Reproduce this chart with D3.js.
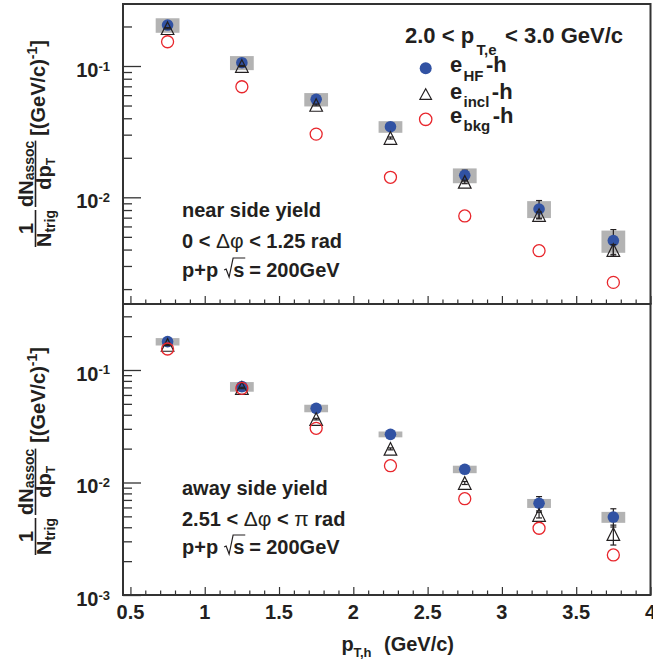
<!DOCTYPE html>
<html><head><meta charset="utf-8">
<script src="https://cdn.jsdelivr.net/npm/d3@7"></script>
<style>
body{margin:0;background:#fff}
text{font-family:"Liberation Sans",Arial,Helvetica,sans-serif;font-weight:bold;fill:#231f20}
</style>
</head><body>
<svg id="c" width="653" height="662"></svg>
<script>
// ---------- data ----------
const ptBins = [0.75, 1.25, 1.75, 2.25, 2.75, 3.25, 3.75];
// near side (0 < dphi < 1.25)
const nearHF     = [0.205, 0.106, 0.0557, 0.0345, 0.0147, 0.00815, 0.00468];
const nearHFStat = [0.003, 0.002, 0.0015, 0.0012, 0.0014, 0.0013, 0.0010];
const nearHFSys  = [0.026, 0.013, 0.0065, 0.0035, 0.0019, 0.0012, 0.0009];
const nearIncl   = [0.194, 0.100, 0.0505, 0.0283, 0.0131, 0.00733, 0.00397];
const nearInclStat = [0.002, 0.001, 0.0008, 0.0005, 0.0004, 0.0004, 0.0004];
const nearBkg    = [0.153, 0.0695, 0.0303, 0.0142, 0.00721, 0.00392, 0.00225];
// away side (2.51 < dphi < pi)
const awayHF     = [0.1786, 0.0711, 0.0456, 0.0268, 0.0131, 0.00654, 0.00493];
const awayHFStat = [0.003, 0.002, 0.0012, 0.0010, 0.0008, 0.00095, 0.00091];
const awayHFSys  = [0.0135, 0.007, 0.0035, 0.0016, 0.0010, 0.0006, 0.00055];
const awayIncl   = [0.167, 0.0692, 0.0366, 0.0199, 0.0099, 0.00514, 0.00348];
const awayInclStat = [0.002, 0.001, 0.0006, 0.0004, 0.0003, 0.0003, 0.0007];
const awayBkg    = [0.1537, 0.0687, 0.0303, 0.0141, 0.00718, 0.00392, 0.00227];

const xTickValues = [0.5, 1, 1.5, 2, 2.5, 3, 3.5, 4];
const xTickLabels = ["0.5", "1", "1.5", "2", "2.5", "3", "3.5", "4"];
const legendTitle = ["2.0 < p", "T,e", "< 3.0 GeV/c"];
const legendEntries = [
  {main: "e", sub: "HF", tail: "-h", marker: "hf"},
  {main: "e", sub: "incl", tail: "-h", marker: "incl"},
  {main: "e", sub: "bkg", tail: "-h", marker: "bkg"}
];
const nearText = ["near side yield", "0 < ", "Δφ", " < 1.25 rad"];
const awayText = ["away side yield", "2.51 < ", "Δφ", " < ", "π", " rad"];

// ---------- style ----------
const BLUE = "#3152a3", RED = "#e8262c", GRAY = "#b3b3b3", INK = "#231f20", FRAME = "#333";
const svg = d3.select("#c");

const x = d3.scaleLinear().domain([0.45, 4.0]).range([123, 650.5]);
const xMinor = d3.range(5, 41).map(d => d / 10);

const panels = [
  {name: "near", top: 4, bottom: 304, dom: [0.00154, 0.2966],
   hf: nearHF, hfStat: nearHFStat, hfSys: nearHFSys, incl: nearIncl, inclStat: nearInclStat, bkg: nearBkg},
  {name: "away", top: 304, bottom: 595, dom: [0.001, 0.386],
   hf: awayHF, hfStat: awayHFStat, hfSys: awayHFSys, incl: awayIncl, inclStat: awayInclStat, bkg: awayBkg}
];

function triPath(cx, cy, s) {
  return `M${cx},${cy - s}L${cx + s},${cy + s}L${cx - s},${cy + s}Z`;
}

panels.forEach((p, pi) => {
  const y = d3.scaleLog().domain(p.dom).range([p.bottom, p.top]);
  p.y = y;
  const g = svg.append("g");

  // y axis ticks
  const yt = y.ticks();
  const isMajor = t => Math.abs(Math.log10(t) - Math.round(Math.log10(t))) < 1e-6;
  const ya = g.append("g").attr("transform", "translate(123,0)")
    .call(d3.axisLeft(y).tickValues(yt).tickSize(-18).tickFormat("").tickSizeOuter(0));
  ya.select(".domain").remove();
  ya.selectAll(".tick line").attr("stroke", FRAME).attr("stroke-width", 1.3)
    .attr("x2", d => isMajor(d) ? 18 : 9);
  // y tick labels 10^n
  yt.filter(isMajor).forEach(t => {
    const e = Math.round(Math.log10(t));
    const tx = g.append("text").attr("x", 110).attr("y", y(t) + 11)
      .attr("text-anchor", "end").style("font-size", "20px");
    tx.append("tspan").text("10");
    tx.append("tspan").attr("dy", -6.5).style("font-size", "13px").text(String(e));
  });

  // x axis ticks (pointing up)
  const xa = g.append("g").attr("transform", `translate(0,${p.bottom})`)
    .call(d3.axisBottom(x).tickValues(xMinor).tickSize(-8).tickFormat("").tickSizeOuter(0));
  xa.select(".domain").remove();
  xa.selectAll(".tick line").attr("stroke", FRAME).attr("stroke-width", 1.2)
    .attr("y2", d => (Math.abs(d * 2 - Math.round(d * 2)) < 1e-6) ? -8 : -4.5);

  // frame
  g.append("rect").attr("x", x(0.45)).attr("y", p.top)
    .attr("width", x(4.0) - x(0.45)).attr("height", p.bottom - p.top)
    .attr("fill", "none").attr("stroke", FRAME).attr("stroke-width", 2);

  // systematic boxes
  g.selectAll(".sys").data(ptBins).join("rect")
    .attr("x", d => x(d - 0.08)).attr("width", d => x(d + 0.08) - x(d - 0.08))
    .attr("y", (d, i) => y(p.hf[i] + p.hfSys[i]))
    .attr("height", (d, i) => y(p.hf[i] - p.hfSys[i]) - y(p.hf[i] + p.hfSys[i]))
    .attr("fill", GRAY);

  function errBars(vals, errs) {
    ptBins.forEach((d, i) => {
      const cx = x(d), y1 = y(vals[i] + errs[i]), y2 = y(vals[i] - errs[i]);
      g.append("line").attr("x1", cx).attr("x2", cx).attr("y1", y1).attr("y2", y2)
        .attr("stroke", INK).attr("stroke-width", 1.2);
      [y1, y2].forEach(yy => g.append("line").attr("x1", cx - 3).attr("x2", cx + 3)
        .attr("y1", yy).attr("y2", yy).attr("stroke", INK).attr("stroke-width", 1.2));
    });
  }
  errBars(p.hf, p.hfStat);
  g.selectAll(".hf").data(ptBins).join("circle")
    .attr("cx", d => x(d)).attr("cy", (d, i) => y(p.hf[i])).attr("r", 5.8).attr("fill", BLUE);
  errBars(p.incl, p.inclStat);
  g.selectAll(".incl").data(ptBins).join("path")
    .attr("d", (d, i) => triPath(x(d), y(p.incl[i]), 6.3))
    .attr("fill", "none").attr("stroke", INK).attr("stroke-width", 1.2);
  g.selectAll(".bkg").data(ptBins).join("circle")
    .attr("cx", d => x(d)).attr("cy", (d, i) => y(p.bkg[i])).attr("r", 6)
    .attr("fill", "none").attr("stroke", RED).attr("stroke-width", 1.3);
});

// x tick labels
xTickValues.forEach((t, i) => {
  svg.append("text").attr("x", x(t)).attr("y", 619).attr("text-anchor", "middle")
    .style("font-size", "20px").text(xTickLabels[i]);
});
// x title
const xt = svg.append("text").attr("y", 651).style("font-size", "20px");
xt.append("tspan").attr("x", 341.5).attr("y", 651).text("p");
xt.append("tspan").attr("x", 353.5).attr("y", 657).style("font-size", "13px").text("T,h");
xt.append("tspan").attr("x", 384).attr("y", 651).text("(GeV/c)");

// y titles
function yTitle(yStart, L) {
  const g = svg.append("g").attr("transform", `translate(0,${yStart}) rotate(-90)`);
  const fs = 20, sfs = 14;
  const d1 = g.append("text").attr("x", 0).attr("y", 51).style("font-size", fs + "px");
  d1.append("tspan").text("N");
  d1.append("tspan").attr("dy", 4).style("font-size", sfs + "px").text("trig");
  const w1 = d1.node().getComputedTextLength();
  g.append("text").attr("x", w1 / 2).attr("y", 33).attr("text-anchor", "middle")
    .style("font-size", fs + "px").text("1");
  g.append("line").attr("x1", 0).attr("x2", w1).attr("y1", 35.5).attr("y2", 35.5)
    .attr("stroke", INK).attr("stroke-width", 1.6);
  const s2 = w1 + 3;
  const n2 = g.append("text").attr("x", s2).attr("y", 33).style("font-size", fs + "px");
  n2.append("tspan").text("dN");
  n2.append("tspan").attr("dy", 1).style("font-size", sfs + "px").text("assoc");
  const w2 = n2.node().getComputedTextLength();
  const dd = g.append("text").attr("x", s2 + w2 / 2).attr("y", 51).attr("text-anchor", "middle")
    .style("font-size", fs + "px");
  dd.append("tspan").text("dp");
  dd.append("tspan").attr("dy", 4).style("font-size", "12px").text("T");
  g.append("line").attr("x1", s2).attr("x2", s2 + w2).attr("y1", 35.5).attr("y2", 35.5)
    .attr("stroke", INK).attr("stroke-width", 1.6);
  const br = g.append("text").attr("x", L).attr("y", 45).attr("text-anchor", "end")
    .style("font-size", fs + "px");
  br.append("tspan").text("[(GeV/c)");
  br.append("tspan").attr("dy", -8).style("font-size", sfs + "px").text("-1");
  br.append("tspan").attr("dy", 8).text("]");
}
yTitle(247, 207);
yTitle(555, 208);

// annotations
function annot(lines, x0, baselines) {
  lines.forEach((parts, li) => {
    const t = svg.append("text").attr("x", x0).attr("y", baselines[li]).style("font-size", "20px");
    parts.forEach(pt => {
      const s = t.append("tspan").text(pt.t);
      if (pt.normal) s.style("font-weight", "normal").style("font-size", "21px");
    });
  });
}
annot([
  [{t: nearText[0]}],
  [{t: nearText[1]}, {t: nearText[2], normal: true}, {t: nearText[3]}]
], 182, [217, 248]);
annot([
  [{t: awayText[0]}],
  [{t: awayText[1]}, {t: awayText[2], normal: true}, {t: awayText[3]}, {t: awayText[4], normal: true}, {t: awayText[5]}]
], 182, [495, 526]);

// p+p sqrt(s) = 200GeV lines
function sqrtLine(x0, b) {
  const t = svg.append("text").attr("x", x0).attr("y", b).style("font-size", "20px").text("p+p");
  const w = t.node().getComputedTextLength();
  const a = x0 + w + 6;
  const s = svg.append("text").attr("x", a + 9).attr("y", b).style("font-size", "20px").text("s");
  const ws = s.node().getComputedTextLength();
  svg.append("path")
    .attr("d", `M${a},${b - 7}L${a + 2},${b - 8}L${a + 5},${b}L${a + 9},${b - 19}L${a + 9 + ws + 1},${b - 19}`)
    .attr("fill", "none").attr("stroke", INK).attr("stroke-width", 1.2);
  const eq = svg.append("text").attr("y", b).style("font-size", "20px");
  eq.append("tspan").attr("x", a + 9 + ws + 5).text("=");
  eq.append("tspan").attr("x", a + 9 + ws + 22).text("200GeV");
}
sqrtLine(182, 277);
sqrtLine(182, 554);

// legend
const lt = svg.append("text").style("font-size", "22px");
lt.append("tspan").attr("x", 405).attr("y", 43).text(legendTitle[0]);
lt.append("tspan").attr("x", 476.5).attr("y", 55).style("font-size", "15px").text(legendTitle[1]);
lt.append("tspan").attr("x", 505).attr("y", 43).text(legendTitle[2]);

const legRows = [{cy: 68.3, b: 71.7, sb: 80.5}, {cy: 94, b: 99.3, sb: 106.5}, {cy: 119.3, b: 122.5, sb: 130.5}];
legendEntries.forEach((e, i) => {
  const r = legRows[i];
  if (e.marker === "hf") svg.append("circle").attr("cx", 425.7).attr("cy", r.cy).attr("r", 6).attr("fill", BLUE);
  if (e.marker === "incl") svg.append("path").attr("d", `M425.7,${r.cy - 5.3}L431.5,${r.cy + 5.3}L419.9,${r.cy + 5.3}Z`)
    .attr("fill", "none").attr("stroke", INK).attr("stroke-width", 1.2);
  if (e.marker === "bkg") svg.append("circle").attr("cx", 425.7).attr("cy", r.cy).attr("r", 6.2)
    .attr("fill", "none").attr("stroke", RED).attr("stroke-width", 1.3);
  const t = svg.append("text").style("font-size", "22px");
  t.append("tspan").attr("x", 450).attr("y", r.b).text(e.main);
  const sub = t.append("tspan").attr("x", 463.5).attr("y", r.sb).style("font-size", "15px").text(e.sub);
  const ws = sub.node().getComputedTextLength();
  t.append("tspan").attr("x", 463.5 + ws + 2.5).attr("y", r.b).text(e.tail);
});
</script>
</body></html>
